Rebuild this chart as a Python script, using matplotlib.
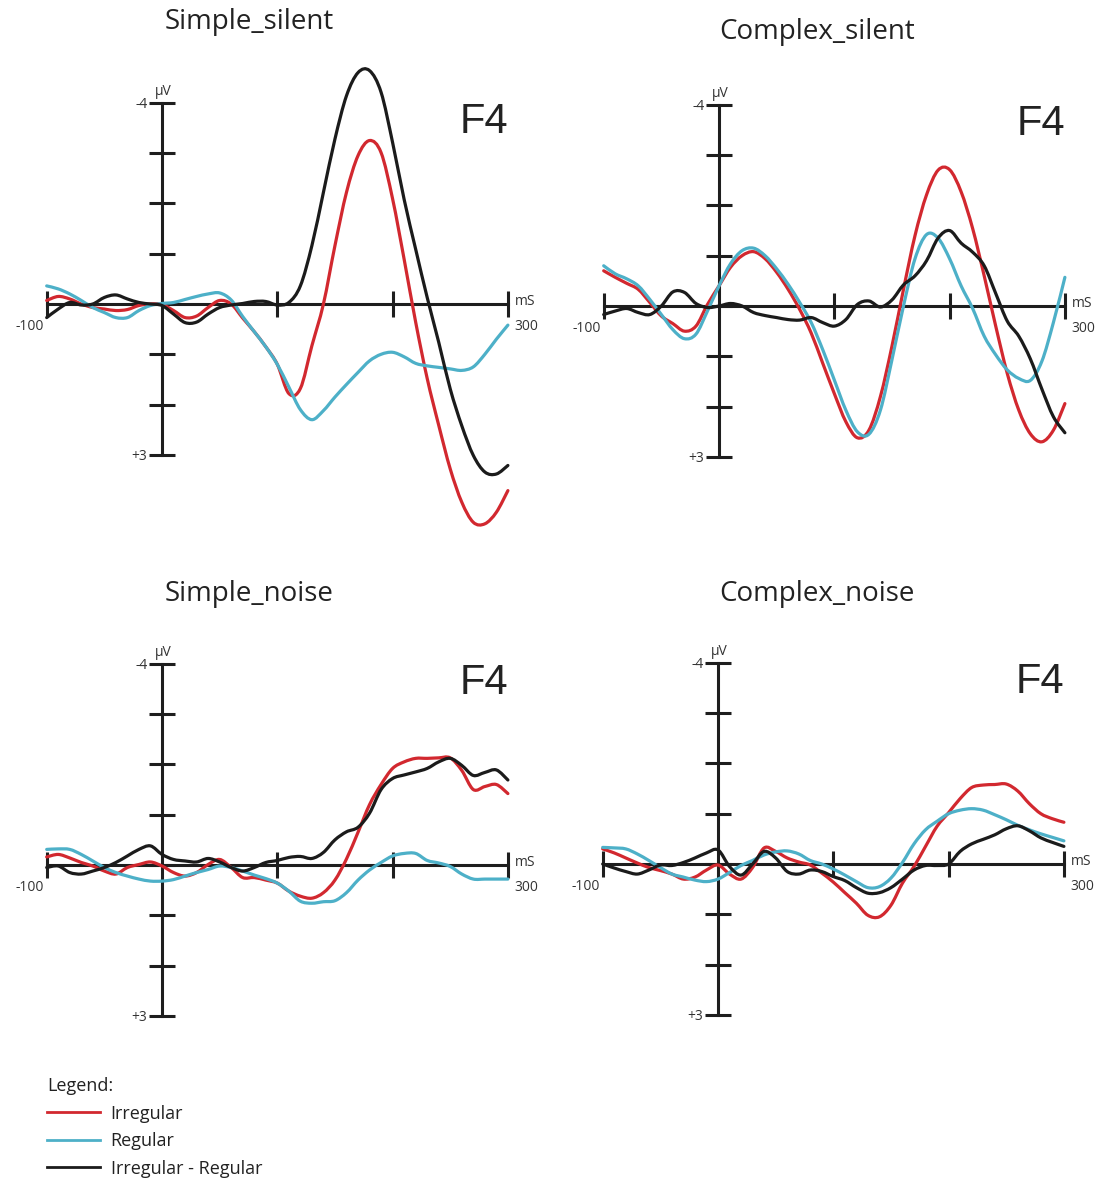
"""
ERP waveforms at F4 for the four listening conditions
"""

import numpy as np
import matplotlib.pyplot as plt
from matplotlib.lines import Line2D
from matplotlib.path import Path
from matplotlib.patches import PathPatch

plt.rcParams['font.family'] = ['Open Sans', 'DejaVu Sans']

# Data (ms / microvolts, negative up)
times_ms = list(range(-100, 301, 10))

simple_silent_irregular = [
    -0.07, -0.15, -0.10, 0.00, 0.07, 0.10, 0.13, 0.11, 0.03, 0.00,
    0.01, 0.13, 0.27, 0.24, 0.07, -0.07, 0.00, 0.28, 0.55, 0.85,
    1.20, 1.78, 1.68, 0.83, 0.00, -1.16, -2.22, -2.95, -3.25, -3.01,
    -2.09, -0.89, 0.36, 1.48, 2.41, 3.28, 3.94, 4.34, 4.37, 4.14,
    3.71]
simple_silent_regular = [
    -0.36, -0.30, -0.20, -0.07, 0.07, 0.17, 0.27, 0.27, 0.13, 0.03,
    -0.01, -0.03, -0.09, -0.15, -0.20, -0.22, -0.08, 0.25, 0.55, 0.85,
    1.20, 1.65, 2.10, 2.30, 2.12, 1.85, 1.60, 1.36, 1.13, 1.00,
    0.96, 1.05, 1.18, 1.23, 1.26, 1.29, 1.32, 1.25, 1.00, 0.70,
    0.42]
simple_silent_diff = [
    0.27, 0.10, -0.03, 0.02, 0.00, -0.13, -0.18, -0.10, -0.03, 0.00,
    0.03, 0.20, 0.37, 0.36, 0.20, 0.07, 0.02, -0.01, -0.05, -0.05,
    0.02, -0.03, -0.36, -1.16, -2.22, -3.28, -4.14, -4.60, -4.64, -4.21,
    -3.21, -2.08, -1.09, -0.13, 0.76, 1.69, 2.42, 3.01, 3.34, 3.38,
    3.21]

complex_silent_irregular = [
    -0.70, -0.57, -0.45, -0.33, -0.07, 0.20, 0.35, 0.50, 0.40, -0.03,
    -0.40, -0.77, -1.00, -1.08, -0.94, -0.67, -0.33, 0.07, 0.54, 1.14,
    1.74, 2.30, 2.62, 2.47, 1.80, 0.80, -0.33, -1.40, -2.21, -2.70,
    -2.71, -2.27, -1.54, -0.60, 0.40, 1.34, 2.07, 2.54, 2.70, 2.47,
    1.94]
complex_silent_regular = [
    -0.80, -0.64, -0.54, -0.40, -0.13, 0.17, 0.47, 0.65, 0.56, 0.10,
    -0.40, -0.84, -1.10, -1.15, -1.00, -0.74, -0.43, -0.07, 0.33, 0.87,
    1.47, 2.07, 2.50, 2.55, 2.07, 1.07, 0.00, -0.94, -1.42, -1.35,
    -0.94, -0.40, 0.05, 0.60, 0.97, 1.27, 1.44, 1.48, 1.10, 0.33,
    -0.57]
complex_silent_diff = [
    0.17, 0.10, 0.05, 0.13, 0.17, 0.00, -0.28, -0.27, -0.05, 0.03,
    0.00, -0.05, 0.00, 0.13, 0.19, 0.23, 0.27, 0.28, 0.23, 0.33,
    0.40, 0.27, -0.03, -0.10, 0.02, -0.12, -0.42, -0.60, -0.90, -1.35,
    -1.50, -1.25, -1.07, -0.80, -0.25, 0.30, 0.60, 1.05, 1.65, 2.20,
    2.52]

simple_noise_irregular = [
    -0.16, -0.21, -0.14, -0.05, 0.02, 0.12, 0.18, 0.05, -0.01, -0.06,
    0.02, 0.15, 0.22, 0.15, -0.01, -0.11, 0.05, 0.25, 0.25, 0.30,
    0.36, 0.52, 0.62, 0.66, 0.55, 0.30, -0.12, -0.65, -1.20, -1.60,
    -1.92, -2.05, -2.12, -2.12, -2.13, -2.13, -1.88, -1.50, -1.56, -1.60,
    -1.42]
simple_noise_regular = [
    -0.31, -0.32, -0.31, -0.21, -0.08, 0.05, 0.15, 0.22, 0.28, 0.32,
    0.32, 0.29, 0.22, 0.15, 0.09, 0.02, 0.05, 0.12, 0.20, 0.27,
    0.36, 0.52, 0.72, 0.76, 0.73, 0.71, 0.55, 0.30, 0.10, -0.05,
    -0.18, -0.23, -0.23, -0.09, -0.04, 0.03, 0.18, 0.28, 0.28, 0.28,
    0.28]
simple_noise_diff = [
    0.05, 0.02, 0.15, 0.18, 0.12, 0.05, -0.05, -0.18, -0.31, -0.38,
    -0.21, -0.11, -0.08, -0.06, -0.13, -0.06, 0.05, 0.12, 0.05, -0.05,
    -0.09, -0.15, -0.17, -0.13, -0.25, -0.50, -0.66, -0.75, -1.03, -1.50,
    -1.72, -1.79, -1.85, -1.92, -2.05, -2.12, -1.98, -1.78, -1.84, -1.89,
    -1.69]

complex_noise_irregular = [
    -0.30, -0.22, -0.12, -0.02, 0.07, 0.13, 0.20, 0.30, 0.26, 0.12,
    0.02, 0.20, 0.30, 0.07, -0.32, -0.25, -0.12, -0.04, 0.02, 0.18,
    0.36, 0.57, 0.78, 1.02, 1.05, 0.82, 0.38, 0.05, -0.35, -0.75,
    -1.02, -1.30, -1.52, -1.57, -1.58, -1.59, -1.45, -1.20, -1.00, -0.90,
    -0.83]
complex_noise_regular = [
    -0.33, -0.32, -0.30, -0.20, -0.07, 0.07, 0.20, 0.26, 0.32, 0.35,
    0.30, 0.17, 0.03, -0.07, -0.18, -0.24, -0.26, -0.20, -0.07, 0.00,
    0.10, 0.22, 0.35, 0.47, 0.45, 0.28, -0.03, -0.40, -0.68, -0.85,
    -1.00, -1.07, -1.10, -1.07, -0.98, -0.88, -0.77, -0.68, -0.60, -0.53,
    -0.46]
complex_noise_diff = [
    0.00, 0.08, 0.15, 0.20, 0.12, 0.02, 0.03, -0.03, -0.12, -0.22,
    -0.28, 0.05, 0.22, 0.00, -0.25, -0.12, 0.15, 0.20, 0.12, 0.15,
    0.25, 0.33, 0.47, 0.58, 0.57, 0.47, 0.30, 0.12, 0.03, 0.03,
    0.00, -0.25, -0.40, -0.49, -0.58, -0.70, -0.76, -0.66, -0.52, -0.43,
    -0.35]

panel_titles = ["Simple_silent", "Complex_silent", "Simple_noise", "Complex_noise"]
series_labels = ["Irregular", "Regular", "Irregular - Regular"]
series_colors = ["#d2282f", "#4db0c8", "#1b1b1b"]

panels = [
    (simple_silent_irregular, simple_silent_regular, simple_silent_diff),
    (complex_silent_irregular, complex_silent_regular, complex_silent_diff),
    (simple_noise_irregular, simple_noise_regular, simple_noise_diff),
    (complex_noise_irregular, complex_noise_regular, complex_noise_diff),
]

# Layout in pixels: origin (t=0, 0 uV) of each panel and title centres
W, H = 1106, 1178
PX_MS = 1.153
PX_UV = 50.3
origins = [(162, 304), (719, 306), (162, 865), (718, 864)]
title_pos = [(249, 22), (817, 32), (249, 594), (817, 594)]
XLIM = (-115, 315)
YLIM = (-5.0, 4.7)


def smooth_path(x, y):
    '''
    Catmull-Rom curve through the samples, as cubic Bezier segments.
    '''
    pts = np.column_stack([x, y]).astype(float)
    ext = np.vstack([pts[0], pts, pts[-1]])
    verts = [pts[0]]
    codes = [Path.MOVETO]
    for i in range(len(pts) - 1):
        p0, p1, p2, p3 = ext[i], ext[i + 1], ext[i + 2], ext[i + 3]
        verts += [p1 + (p2 - p0) / 6.0, p2 - (p3 - p1) / 6.0, p2]
        codes += [Path.CURVE4] * 3
    return Path(verts, codes)


fig = plt.figure(figsize=(W / 100, H / 100), dpi=100)
fig.patch.set_facecolor("white")

axis_color = "#1e1e1e"
small = dict(fontsize=10, color="#333333")
for i, (x0, y0) in enumerate(origins):
    left = x0 + XLIM[0] * PX_MS
    width = (XLIM[1] - XLIM[0]) * PX_MS
    top = y0 + YLIM[0] * PX_UV
    height = (YLIM[1] - YLIM[0]) * PX_UV
    ax = fig.add_axes([left / W, 1 - (top + height) / H, width / W, height / H])
    ax.set_xlim(*XLIM)
    ax.set_ylim(YLIM[1], YLIM[0])
    ax.patch.set_alpha(0)

    # Cross-shaped axes through the origin
    for side in ["top", "right"]:
        ax.spines[side].set_visible(False)
    ax.spines["left"].set_position(("data", 0))
    ax.spines["bottom"].set_position(("data", 0))
    ax.spines["left"].set_bounds(-4, 3)
    ax.spines["bottom"].set_bounds(-100, 300)
    for side in ["left", "bottom"]:
        ax.spines[side].set_linewidth(2.2)
        ax.spines[side].set_color(axis_color)
        ax.spines[side].set_zorder(2)

    ax.set_yticks(range(-4, 4))
    ax.set_yticklabels(["-4", "", "", "", "", "", "", "+3"])
    ax.set_xticks([-100, 100, 200, 300])
    ax.set_xticklabels([])
    ax.tick_params(axis="y", direction="inout", length=19, width=2.2,
                   color=axis_color, labelsize=10, labelcolor="#333333", pad=1)
    ax.tick_params(axis="x", direction="inout", length=19, width=2.2,
                   color=axis_color)

    # Axis annotations
    ax.annotate("\u00b5V", xy=(0, -4), xytext=(1, 8), textcoords="offset points",
                ha="center", va="center", **small)
    ax.annotate("-100", xy=(-100, 0), xytext=(-2, -16), textcoords="offset points",
                ha="right", va="center", **small)
    ax.annotate("300", xy=(300, 0), xytext=(5, -16), textcoords="offset points",
                ha="left", va="center", **small)
    ax.annotate("mS", xy=(300, 0), xytext=(5, 2), textcoords="offset points",
                ha="left", va="center", **small)
    ax.text(300, -3.62, "F4", ha="right", va="center", fontsize=30,
            family=["Liberation Sans", "DejaVu Sans"], color="#222222")

    for values, color in zip(panels[i], series_colors):
        patch = PathPatch(smooth_path(times_ms, values), facecolor="none",
                          edgecolor=color, lw=2.3, zorder=3, clip_on=False,
                          joinstyle="round", capstyle="round")
        ax.add_patch(patch)

    tx, ty = title_pos[i]
    fig.text(tx / W, 1 - ty / H, panel_titles[i], ha="center", va="center",
             fontsize=20, color="#222222")

# Legend
handles = [Line2D([], [], color=c, lw=2.0) for c in series_colors]
leg = fig.legend(handles, series_labels, title="Legend:", loc="upper left",
                 bbox_to_anchor=(42 / W, 1 - 1072 / H), frameon=False,
                 alignment="left", fontsize=13, title_fontsize=13,
                 handlelength=2.9, handletextpad=0.6, labelspacing=0.52,
                 borderpad=0.3, borderaxespad=0)
for txt in leg.get_texts():
    txt.set_color("#222222")
leg.get_title().set_color("#222222")

fig.savefig("out.png", dpi=100)
